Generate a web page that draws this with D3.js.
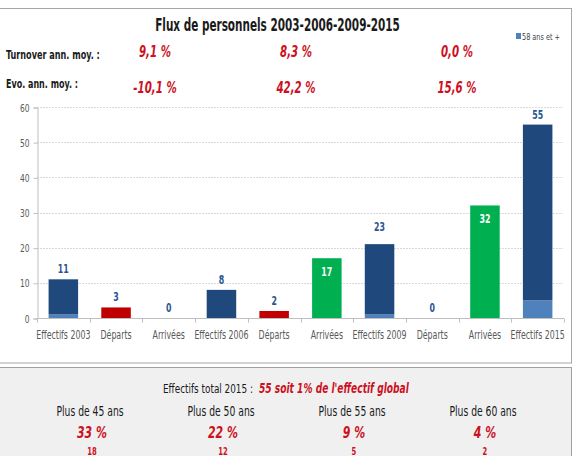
<!DOCTYPE html>
<html>
<head>
<meta charset="utf-8">
<script src="https://cdn.jsdelivr.net/npm/d3@7"></script>
<style>
  body { margin: 0; background: #fff; }
  text { font-family: "Liberation Sans Narrow", "Arial Narrow", "DejaVu Sans Condensed", sans-serif; }
</style>
</head>
<body>
<svg id="chart" width="577" height="456"></svg>
<script>
// ---- data ----
var categories = ["Effectifs 2003", "Départs", "Arrivées", "Effectifs 2006", "Départs",
                  "Arrivées", "Effectifs 2009", "Départs", "Arrivées", "Effectifs 2015"];
var kinds = ["eff", "dep", "arr", "eff", "dep", "arr", "eff", "dep", "arr", "eff"];
var mainValues = [10, 3, 0, 8, 2, 17, 20, 0, 32, 50];
var seniorValues = [1, 0, 0, 0, 0, 0, 1, 0, 0, 5];   // "58 ans et +"
var barLabels = [11, 3, 0, 8, 2, 17, 23, 0, 32, 55];
var yTicks = [0, 10, 20, 30, 40, 50, 60];

var turnover = ["9,1 %", "8,3 %", "0,0 %"];
var evolution = ["-10,1 %", "42,2 %", "15,6 %"];

var ageGroups = ["Plus de 45 ans", "Plus de 50 ans", "Plus de 55 ans", "Plus de 60 ans"];
var agePercents = ["33 %", "22 %", "9 %", "4 %"];
var ageCounts = [18, 12, 5, 2];

// ---- layout ----
var colors = { eff: "#1F497D", dep: "#C00000", arr: "#00B050", senior: "#4F81BD" };
var red = "#CC1122";
var statCols = [155, 296, 457];
var squeezeK = 0.76;

var svg = d3.select("#chart");

// the reference font is very condensed: scale texts horizontally around their x
function scaleX(node, k) {
  var x0 = +node.getAttribute("x") || 0;
  node.setAttribute("transform", "translate(" + (x0 * (1 - k)) + ",0) scale(" + k + ",1)");
}
function fit(sel, w) {
  sel.each(function() { scaleX(this, w / this.getComputedTextLength()); });
  return sel;
}
function squeeze(sel) {
  sel.each(function() { scaleX(this, squeezeK); });
  return sel;
}

// frames
svg.append("rect").attr("x", -1).attr("y", 8.5).attr("width", 572.5).attr("height", 354.5)
  .attr("fill", "#fff").attr("stroke", "#a6a6a6");
svg.append("rect").attr("x", -1).attr("y", 367.5).attr("width", 572.5).attr("height", 100)
  .attr("fill", "#f0f0f0").attr("stroke", "#a0a0a0");

// title + header stats
fit(svg.append("text").attr("x", 277.5).attr("y", 31).attr("text-anchor", "middle")
  .attr("font-size", 17).attr("font-weight", "bold").attr("fill", "#1a1a1a")
  .text("Flux de personnels 2003-2006-2009-2015"), 245);

fit(svg.append("text").attr("x", 6).attr("y", 59).attr("font-size", 12.5)
  .attr("font-weight", "bold").attr("fill", "#1a1a1a").text("Turnover ann. moy. :"), 94);
fit(svg.append("text").attr("x", 6).attr("y", 88).attr("font-size", 12.5)
  .attr("font-weight", "bold").attr("fill", "#1a1a1a").text("Evo. ann. moy. :"), 72);

squeeze(svg.selectAll(".turn").data(turnover).join("text")
  .attr("x", function(d, i) { return statCols[i]; }).attr("y", 57)
  .attr("text-anchor", "middle").attr("font-size", 15).attr("font-weight", "bold")
  .attr("font-style", "italic").attr("fill", red).text(function(d) { return d; }));
squeeze(svg.selectAll(".evo").data(evolution).join("text")
  .attr("x", function(d, i) { return statCols[i]; }).attr("y", 93)
  .attr("text-anchor", "middle").attr("font-size", 15).attr("font-weight", "bold")
  .attr("font-style", "italic").attr("fill", red).text(function(d) { return d; }));

// legend
svg.append("rect").attr("x", 516).attr("y", 33).attr("width", 5).attr("height", 6)
  .attr("fill", colors.senior);
fit(svg.append("text").attr("x", 522).attr("y", 40).attr("font-size", 9.5)
  .attr("fill", "#404040").text("58 ans et +"), 38);

// ---- plot ----
var x = d3.scaleBand().domain(d3.range(categories.length)).range([37, 564]).padding(0);
var y = d3.scaleLinear().domain([0, 60]).range([318, 107]);
var barW = x.bandwidth() * 0.56;

var g = svg.append("g");

// gridlines
g.selectAll(".grid").data(yTicks.slice(1)).join("line")
  .attr("x1", 37).attr("x2", 563)
  .attr("y1", function(d) { return Math.round(y(d)) + 0.5; })
  .attr("y2", function(d) { return Math.round(y(d)) + 0.5; })
  .attr("stroke", "#d9d9d9").attr("stroke-dasharray", "2,1");

// y axis
var yAxis = g.append("g").attr("transform", "translate(37.5,0.5)")
  .call(d3.axisLeft(y).tickValues(yTicks).tickSize(4).tickPadding(4));
yAxis.select(".domain").attr("stroke", "#bfbfbf");
yAxis.selectAll(".tick line").attr("stroke", "#bfbfbf");
yAxis.selectAll(".tick text").attr("font-size", 11).attr("fill", "#595959")
  .attr("font-family", null);
squeeze(yAxis.selectAll(".tick text"));

// x axis: ticks on category boundaries
var xAxis = g.append("g").attr("transform", "translate(0," + (y(0) + 0.5) + ")");
xAxis.append("line").attr("x1", 37).attr("x2", 564).attr("stroke", "#bfbfbf");
xAxis.selectAll(".bt").data(d3.range(categories.length + 1)).join("line")
  .attr("x1", function(i) { return Math.round(i < categories.length ? x(i) : x.range()[1]) + 0.5; })
  .attr("x2", function(i) { return Math.round(i < categories.length ? x(i) : x.range()[1]) + 0.5; })
  .attr("y1", 0).attr("y2", 4).attr("stroke", "#bfbfbf");
squeeze(xAxis.selectAll(".cat").data(categories).join("text")
  .attr("x", function(d, i) { return x(i) + x.bandwidth() / 2; }).attr("y", 21)
  .attr("text-anchor", "middle").attr("font-size", 11.5).attr("fill", "#595959")
  .text(function(d) { return d; }));

// bars: senior part at bottom, main part on top
var bars = g.selectAll(".bar").data(categories).join("g");
bars.append("rect")
  .attr("x", function(d, i) { return x(i) + (x.bandwidth() - barW) / 2; })
  .attr("width", barW)
  .attr("y", function(d, i) { return y(seniorValues[i]); })
  .attr("height", function(d, i) { return y(0) - y(seniorValues[i]); })
  .attr("fill", colors.senior);
bars.append("rect")
  .attr("x", function(d, i) { return x(i) + (x.bandwidth() - barW) / 2; })
  .attr("width", barW)
  .attr("y", function(d, i) { return y(seniorValues[i] + mainValues[i]); })
  .attr("height", function(d, i) { return y(seniorValues[i]) - y(seniorValues[i] + mainValues[i]); })
  .attr("fill", function(d, i) { return colors[kinds[i]]; });

// data labels
squeeze(g.selectAll(".lbl").data(barLabels).join("text")
  .attr("x", function(d, i) { return x(i) + x.bandwidth() / 2; })
  .attr("y", function(d, i) {
    return kinds[i] === "arr" && d > 0 ? y(d) + 18 : y(d) - 6;
  })
  .attr("text-anchor", "middle").attr("font-size", 11.5).attr("font-weight", "bold")
  .attr("fill", function(d, i) { return kinds[i] === "arr" && d > 0 ? "#fff" : "#2A568F"; })
  .text(function(d) { return d; }));

// ---- bottom panel ----
fit(svg.append("text").attr("x", 163).attr("y", 393).attr("font-size", 12.5)
  .attr("fill", "#1a1a1a").text("Effectifs total 2015 :"), 90);
fit(svg.append("text").attr("x", 259).attr("y", 393).attr("font-size", 14.5)
  .attr("font-weight", "bold").attr("font-style", "italic").attr("fill", red)
  .text("55 soit 1% de l'effectif global"), 150);

var cols = d3.scaleBand().domain(d3.range(ageGroups.length)).range([24.5, 548.5]);
function colX(d, i) { return cols(i) + cols.bandwidth() / 2; }

squeeze(svg.selectAll(".age").data(ageGroups).join("text")
  .attr("x", colX).attr("y", 416).attr("text-anchor", "middle").attr("font-size", 13.5)
  .attr("fill", "#1a1a1a").text(function(d) { return d; }));
squeeze(svg.selectAll(".pct").data(agePercents).join("text")
  .attr("x", function(d, i) { return colX(d, i) + 2; }).attr("y", 438).attr("text-anchor", "middle")
  .attr("font-size", 16).attr("font-weight", "bold").attr("font-style", "italic")
  .attr("fill", red).text(function(d) { return d; }));
squeeze(svg.selectAll(".cnt").data(ageCounts).join("text")
  .attr("x", function(d, i) { return colX(d, i) + 2; }).attr("y", 455).attr("text-anchor", "middle")
  .attr("font-size", 10).attr("font-weight", "bold")
  .attr("fill", red).text(function(d) { return d; }));
</script>
</body>
</html>
